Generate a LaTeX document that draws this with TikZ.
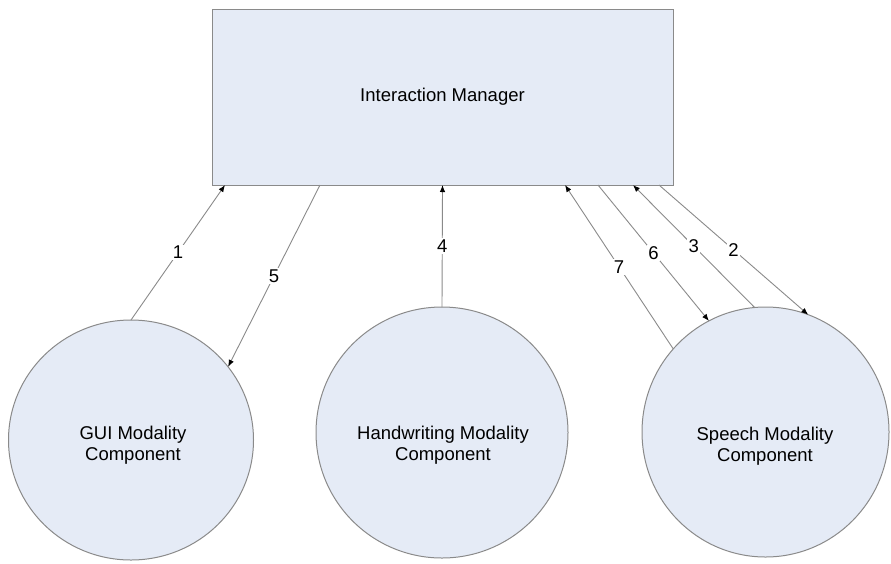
\documentclass[tikz,border=0pt]{standalone}
\usepackage{fontspec}
\setmainfont{Liberation Sans}
\usetikzlibrary{shapes.geometric,arrows.meta}
\definecolor{boxfill}{HTML}{E5EBF6}
\definecolor{edge}{HTML}{8A8A8A}
\tikzset{
  mgr/.style={draw=edge, fill=boxfill, line width=1pt, minimum width=461pt, minimum height=176pt, inner sep=0pt, outer sep=0pt, font=\fontsize{18.5}{22}\selectfont},
  comp/.style={ellipse, draw=edge, fill=boxfill, line width=1pt, inner sep=0pt, outer sep=0pt},
  ctext/.style={align=center, inner sep=0pt, font=\fontsize{18.5}{21.5}\selectfont},
  conn/.style={draw=edge, line width=0.9pt, -{Latex[length=7pt,width=5.5pt,color=black]}},
  num/.style={fill=white, inner sep=1.5pt, font=\fontsize{18.5}{22}\selectfont}
}
\begin{document}
\begin{tikzpicture}[x=1pt,y=-1pt]
\useasboundingbox (0,0) rectangle (891,563);
\node[mgr] (im) at (442.5,97) {Interaction Manager};
\node[comp, minimum width=245pt, minimum height=240pt] (gui) at (131,440) {};
\node[comp, minimum width=252pt, minimum height=251pt] (hw) at (442,432.5) {};
\node[comp, minimum width=247pt, minimum height=250pt] (sp) at (765.5,432) {};
\node[ctext] (guit) at (133,445) {GUI Modality\\Component};
\node[ctext] (hwt) at (443,445) {Handwriting Modality\\Component};
\node[ctext] (spt) at (765,446) {Speech Modality\\Component};
\draw[conn] (gui.90) -- node[num] {1} ([xshift=13pt]im.south west);
\draw[conn] ([xshift=108pt]im.south west) -- node[num] {5} (gui.37);
\draw[conn] (hw.90) -- node[num] {4} (im.south);
\draw[conn] (sp.138.6) -- node[num] {7} ([xshift=353pt]im.south west);
\draw[conn] ([xshift=386pt]im.south west) -- node[num] {6} (sp.117);
\draw[conn] (sp.95) -- node[num] {3} ([xshift=421pt]im.south west);
\draw[conn] ([xshift=447pt]im.south west) -- node[num] {2} (sp.70);
\end{tikzpicture}
\end{document}
